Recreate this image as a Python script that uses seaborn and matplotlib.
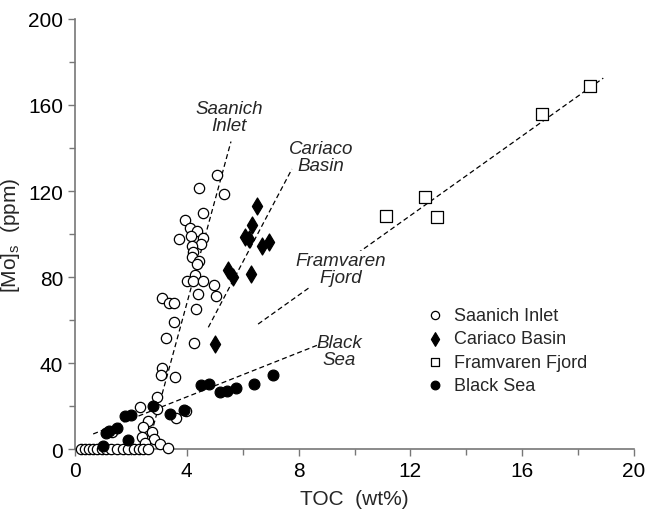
import pandas as pd
import matplotlib.pyplot as plt
import seaborn as sns

# Saanich Inlet (open circles)
saanich_toc = [5.07, 4.42, 5.34, 4.59, 3.92, 4.11, 4.38, 3.73, 4.14, 4.59,
               4.51, 4.19, 4.23, 4.17, 4.45, 4.35, 4.29, 4.00, 4.23, 4.59,
               4.97, 4.40, 5.06, 3.11, 3.37, 3.55, 4.33, 3.54, 3.26, 4.26,
               3.10, 3.07, 3.58, 2.33, 2.92, 2.95, 3.61, 3.97, 2.62, 2.42,
               2.74, 2.38, 2.83, 2.50, 3.04, 1.31, 3.34,
               0.20, 0.35, 0.50, 0.65, 0.80, 0.95, 1.10, 1.30, 1.50, 1.70,
               1.90, 2.10, 2.30, 2.45, 2.60]
saanich_mo = [127.6, 121.4, 118.6, 109.8, 106.5, 102.6, 101.5, 97.5, 99.2, 98.3,
              95.3, 94.3, 91.5, 89.3, 87.4, 86.0, 81.1, 78.0, 78.0, 78.0,
              76.3, 72.1, 71.0, 70.1, 67.9, 67.9, 65.1, 58.9, 51.6, 49.1,
              37.5, 34.4, 33.5, 19.4, 24.0, 18.6, 14.3, 17.5, 13.2, 10.1,
              8.0, 5.4, 4.7, 2.8, 2.3, 7.8, 0.3,
              0, 0, 0, 0, 0, 0, 0, 0, 0, 0,
              0, 0, 0, 0, 0]

# Cariaco Basin (filled diamonds)
cariaco_toc = [6.52, 6.34, 6.08, 6.24, 6.70, 6.94, 5.46, 5.64, 6.29, 5.02]
cariaco_mo = [113.2, 104.2, 98.8, 97.7, 94.3, 96.1, 83.3, 79.8, 81.4, 48.7]

# Framvaren Fjord (open squares)
framvaren_toc = [11.13, 12.52, 12.94, 16.72, 18.43]
framvaren_mo = [108.5, 117.1, 108.1, 155.8, 169.0]

# Black Sea (filled circles)
blacksea_toc = [1.0, 1.1, 1.2, 1.5, 1.8, 2.0, 1.9, 2.8, 3.4, 3.9,
                4.5, 4.8, 5.2, 5.45, 5.75, 6.4, 7.1]
blacksea_mo = [1.5, 7.5, 8.5, 9.6, 15.2, 16.0, 4.3, 20.1, 16.4, 18.0,
               29.6, 30.2, 26.4, 27.1, 28.2, 30.2, 34.4]

# dashed trend lines (end points)
fit_x = {"Saanich Inlet": [2.58, 5.58], "Cariaco Basin": [4.77, 7.76],
         "Framvaren Fjord": [6.55, 18.9], "Black Sea": [0.65, 8.77]}
fit_y = {"Saanich Inlet": [0, 143], "Cariaco Basin": [56.6, 130.2],
         "Framvaren Fjord": [58.1, 172.5], "Black Sea": [7.0, 48.8]}

SITES = ["Saanich Inlet", "Cariaco Basin", "Framvaren Fjord", "Black Sea"]
STYLE = {
    "Saanich Inlet": dict(marker="o", facecolor="white", s=55),
    "Cariaco Basin": dict(marker="d", facecolor="black", s=75),
    "Framvaren Fjord": dict(marker="s", facecolor="white", s=65),
    "Black Sea": dict(marker="o", facecolor="black", s=60),
}
LABELS = {"Saanich Inlet": (5.51, 154.4, "Saanich\nInlet"),
          "Cariaco Basin": (8.8, 135.8, "Cariaco\nBasin"),
          "Framvaren Fjord": (9.52, 83.7, "Framvaren\nFjord"),
          "Black Sea": (9.45, 45.6, "Black\nSea")}


def main():
    df = pd.concat([
        pd.DataFrame({"toc": saanich_toc, "mo": saanich_mo, "site": "Saanich Inlet"}),
        pd.DataFrame({"toc": cariaco_toc, "mo": cariaco_mo, "site": "Cariaco Basin"}),
        pd.DataFrame({"toc": framvaren_toc, "mo": framvaren_mo, "site": "Framvaren Fjord"}),
        pd.DataFrame({"toc": blacksea_toc, "mo": blacksea_mo, "site": "Black Sea"}),
    ])

    sns.set_style("ticks")
    plt.rcParams["font.family"] = ["Liberation Sans", "DejaVu Sans"]
    plt.rcParams["mathtext.fontset"] = "custom"
    plt.rcParams["mathtext.rm"] = "Liberation Sans"

    fig = plt.figure(figsize=(6.5, 5.1), dpi=100)
    ax = fig.add_axes([0.1154, 0.1176, 0.86, 0.8432])

    for site in SITES:
        ax.plot(fit_x[site], fit_y[site], color="black", lw=0.9,
                dashes=(4, 2.5), zorder=1)

    for site in SITES:
        st = STYLE[site]
        sns.scatterplot(data=df[df.site == site], x="toc", y="mo", ax=ax,
                        marker=st["marker"], s=st["s"], color=st["facecolor"],
                        edgecolor="black", linewidth=0.9, label=site,
                        clip_on=False, zorder=3)

    for site in SITES:
        x, y, txt = LABELS[site]
        bbox = None
        if site == "Framvaren Fjord":
            bbox = dict(facecolor="white", edgecolor="none", pad=1)
        ax.text(x, y, txt, ha="center", va="center", fontsize=13.5,
                style="italic", linespacing=0.95, bbox=bbox, zorder=2)

    ax.set_xlim(0, 20)
    ax.set_ylim(0, 200)
    ax.set_xticks([0, 4, 8, 12, 16, 20])
    ax.set_xticks([2, 6, 10, 14, 18], minor=True)
    ax.set_yticks([0, 40, 80, 120, 160, 200])
    ax.set_yticks([20, 60, 100, 140, 180], minor=True)
    ax.tick_params(which="both", colors="#777777", labelcolor="black",
                   labelsize=15, width=1)
    ax.tick_params(which="major", length=5)
    ax.tick_params(which="minor", length=4)
    sns.despine(ax=ax)
    for sp in ["left", "bottom"]:
        ax.spines[sp].set_color("#777777")
        ax.spines[sp].set_linewidth(1.2)

    ax.set_xlabel("TOC  (wt%)", fontsize=15)
    ax.set_ylabel(r"[Mo]$_\mathregular{s}$  (ppm)", fontsize=15)
    ax.xaxis.set_label_coords(0.5, -0.093)
    ax.yaxis.set_label_coords(-0.095, 0.5)

    ax.legend(loc="upper left", bbox_to_anchor=(0.59, 0.368),
              frameon=False, fontsize=13, handletextpad=0.3,
              labelspacing=0.35, markerscale=0.8, handlelength=1.5)

    plt.savefig("out.png", dpi=100)
    plt.close()


if __name__ == "__main__":
    main()
